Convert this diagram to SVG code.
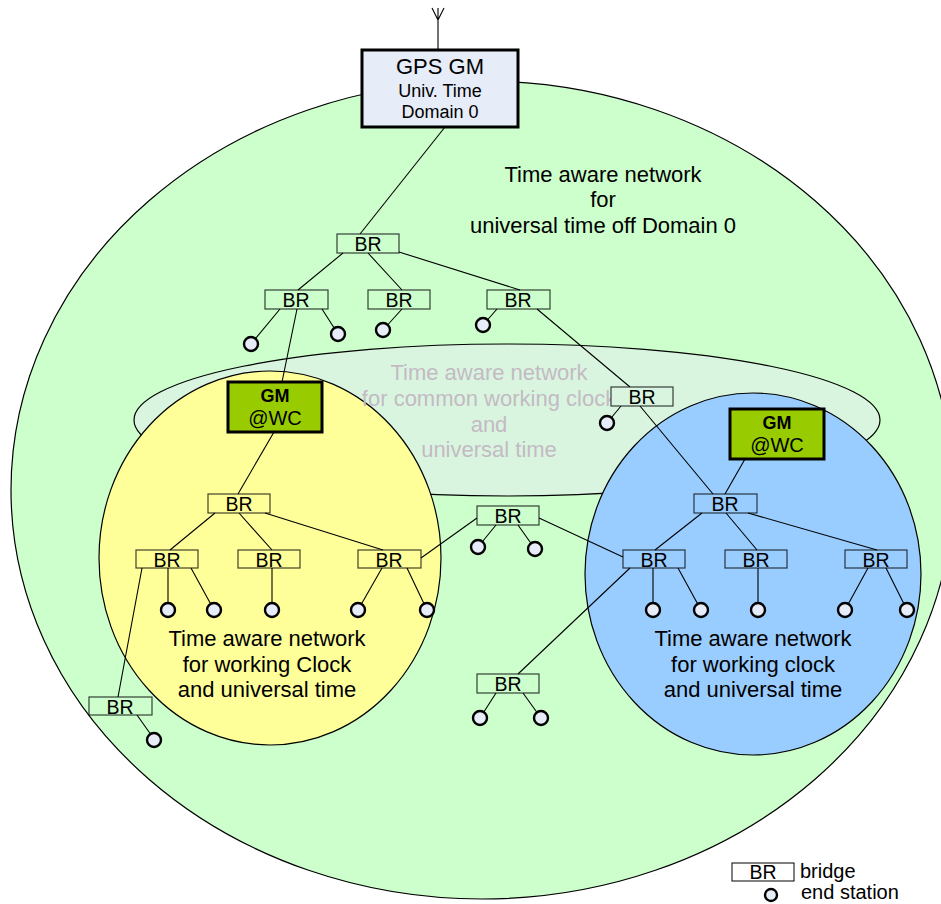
<svg xmlns="http://www.w3.org/2000/svg" width="941" height="904" viewBox="0 0 941 904">
<style>
text{font-family:"Liberation Sans",Arial,sans-serif;fill:#000}
.big{font-size:22px;text-anchor:middle}
.gray{font-size:22px;text-anchor:middle;fill:#c4bac4}
.br{fill:none;stroke:#000;stroke-opacity:0.75;stroke-width:1.2}
.brt{font-size:19.5px;text-anchor:middle}
.es{fill:#e6ecf8;stroke:#000;stroke-width:2.4}
.gm{fill:#99cc00;stroke:#000;stroke-width:3}
.ln{stroke:#000;stroke-width:1.1;fill:none}
</style>
<g id="areas">
<ellipse cx="482" cy="490" rx="471" ry="409" fill="#ccffcc" stroke="#000" stroke-width="1.2"/>
<ellipse cx="507" cy="420" rx="373" ry="76" fill="#d9f5df" stroke="#000" stroke-width="1.2"/>
<ellipse cx="270" cy="558" rx="171" ry="187" fill="#ffff99" stroke="#000" stroke-width="1.2"/>
<ellipse cx="753" cy="574" rx="168" ry="181" fill="#99ccff" stroke="#000" stroke-width="1.2"/>
</g>
<g id="labels">
<text class="gray" x="489" y="380">Time aware network</text>
<text class="gray" x="489" y="406">for common working clock</text>
<text class="gray" x="489" y="432">and</text>
<text class="gray" x="489" y="457">universal time</text>
<text class="big" x="603" y="182">Time aware network</text>
<text class="big" x="603" y="207">for</text>
<text class="big" x="603" y="233">universal time off Domain 0</text>
<text class="big" x="267" y="646">Time aware network</text>
<text class="big" x="267" y="672">for working Clock</text>
<text class="big" x="267" y="697">and universal time</text>
<text class="big" x="753" y="646">Time aware network</text>
<text class="big" x="753" y="672">for working clock</text>
<text class="big" x="753" y="697">and universal time</text>
</g>
<g id="connectors" class="ln">
<path d="M438,8 L438,50 M432,8 L438,20 L444,8"/>
<path d="M445,127 L360,234"/>
<path d="M343,253 L298,290 M368,253 L402,290 M399,252 L520,290"/>
<path d="M280,309 L251,344 M322,309 L338,334 M402,309 L383,330 M497,309 L483,325 M621,406 L607,423"/>
<path d="M297,309 L282,382"/>
<path d="M537,309 L630,387 M640,406 L713,494"/>
<path d="M274,432 L238,494"/>
<path d="M215,513 L170,550 M239,513 L272,550 M265,513 L383,550"/>
<path d="M168,568 L168,610 M191,568 L214,610 M142,568 L118,697 M137,715 L154,739"/>
<path d="M272,568 L272,610"/>
<path d="M382,568 L358,610 M407,568 L427,610"/>
<path d="M421,558 L477,518"/>
<path d="M496,525 L478,547 M518,525 L535,549 M539,518 L623,557"/>
<path d="M745,459 L725,494 M702,513 L655,550 M726,513 L757,550 M748,513 L877,550"/>
<path d="M653,568 L653,610 M678,568 L701,610 M630,568 L518,674"/>
<path d="M496,693 L480,718 M523,693 L541,718"/>
<path d="M758,568 L758,610 M868,568 L845,610 M886,568 L907,610"/>
</g>
<g id="bridges">
<g id="br1"><rect class="br" x="337" y="234" width="62" height="19"/><text class="brt" x="368" y="251">BR</text></g>
<g id="br2"><rect class="br" x="265" y="290" width="63" height="19"/><text class="brt" x="296" y="307">BR</text></g>
<g id="br3"><rect class="br" x="368" y="290" width="62" height="19"/><text class="brt" x="399" y="307">BR</text></g>
<g id="br4"><rect class="br" x="487" y="290" width="63" height="19"/><text class="brt" x="518" y="307">BR</text></g>
<g id="br5"><rect class="br" x="611" y="387" width="62" height="19" style="fill:#d9f5df"/><text class="brt" x="642" y="404">BR</text></g>
<g id="br6"><rect class="br" x="208" y="494" width="62" height="19"/><text class="brt" x="239" y="511">BR</text></g>
<g id="br7"><rect class="br" x="136" y="550" width="62" height="18"/><text class="brt" x="167" y="567">BR</text></g>
<g id="br8"><rect class="br" x="238" y="550" width="62" height="18"/><text class="brt" x="269" y="567">BR</text></g>
<g id="br9"><rect class="br" x="358" y="550" width="63" height="18"/><text class="brt" x="389" y="567">BR</text></g>
<g id="br10"><rect class="br" x="89" y="697" width="63" height="18"/><text class="brt" x="120" y="714">BR</text></g>
<g id="br11"><rect class="br" x="477" y="506" width="62" height="19"/><text class="brt" x="508" y="523">BR</text></g>
<g id="br12"><rect class="br" x="694" y="494" width="63" height="19"/><text class="brt" x="725" y="511">BR</text></g>
<g id="br13"><rect class="br" x="623" y="550" width="62" height="18"/><text class="brt" x="654" y="567">BR</text></g>
<g id="br14"><rect class="br" x="725" y="550" width="62" height="18"/><text class="brt" x="756" y="567">BR</text></g>
<g id="br15"><rect class="br" x="845" y="550" width="62" height="18"/><text class="brt" x="876" y="567">BR</text></g>
<g id="br16"><rect class="br" x="477" y="674" width="62" height="19"/><text class="brt" x="508" y="691">BR</text></g>
</g>
<g id="endstations">
<circle class="es" cx="251" cy="344" r="7"/>
<circle class="es" cx="338" cy="334" r="7"/>
<circle class="es" cx="383" cy="330" r="7"/>
<circle class="es" cx="483" cy="325" r="7"/>
<circle class="es" cx="607" cy="423" r="7"/>
<circle class="es" cx="168" cy="610" r="7"/>
<circle class="es" cx="214" cy="610" r="7"/>
<circle class="es" cx="272" cy="610" r="7"/>
<circle class="es" cx="358" cy="610" r="7"/>
<circle class="es" cx="427" cy="610" r="7"/>
<circle class="es" cx="154" cy="740" r="7"/>
<circle class="es" cx="478" cy="547" r="7"/>
<circle class="es" cx="535" cy="549" r="7"/>
<circle class="es" cx="653" cy="610" r="7"/>
<circle class="es" cx="701" cy="610" r="7"/>
<circle class="es" cx="758" cy="610" r="7"/>
<circle class="es" cx="845" cy="610" r="7"/>
<circle class="es" cx="907" cy="610" r="7"/>
<circle class="es" cx="480" cy="718" r="7"/>
<circle class="es" cx="541" cy="718" r="7"/>
</g>
<g id="gm-left">
<rect class="gm" x="228" y="382" width="94" height="50"/>
<text x="275" y="402" style="font-size:18px;font-weight:bold;text-anchor:middle">GM</text>
<text x="275" y="425" style="font-size:20px;text-anchor:middle">@WC</text>
</g>
<g id="gm-right">
<rect class="gm" x="730" y="409" width="94" height="50"/>
<text x="777" y="429" style="font-size:18px;font-weight:bold;text-anchor:middle">GM</text>
<text x="777" y="452" style="font-size:20px;text-anchor:middle">@WC</text>
</g>
<g id="gps-gm">
<rect x="362" y="50" width="156" height="77" fill="#e6ecf8" stroke="#000" stroke-width="3"/>
<text x="440" y="74" style="font-size:22px;text-anchor:middle">GPS GM</text>
<text x="440" y="97" style="font-size:18px;text-anchor:middle">Univ. Time</text>
<text x="440" y="118" style="font-size:18px;text-anchor:middle">Domain 0</text>
</g>
<g id="legend">
<rect x="732" y="863" width="62" height="18" fill="#fff" stroke="#000" stroke-width="1"/>
<text class="brt" x="763" y="879">BR</text>
<text x="800" y="878" style="font-size:20px">bridge</text>
<circle class="es" cx="771" cy="895" r="6"/>
<text x="801" y="899" style="font-size:20px">end station</text>
</g>
</svg>
